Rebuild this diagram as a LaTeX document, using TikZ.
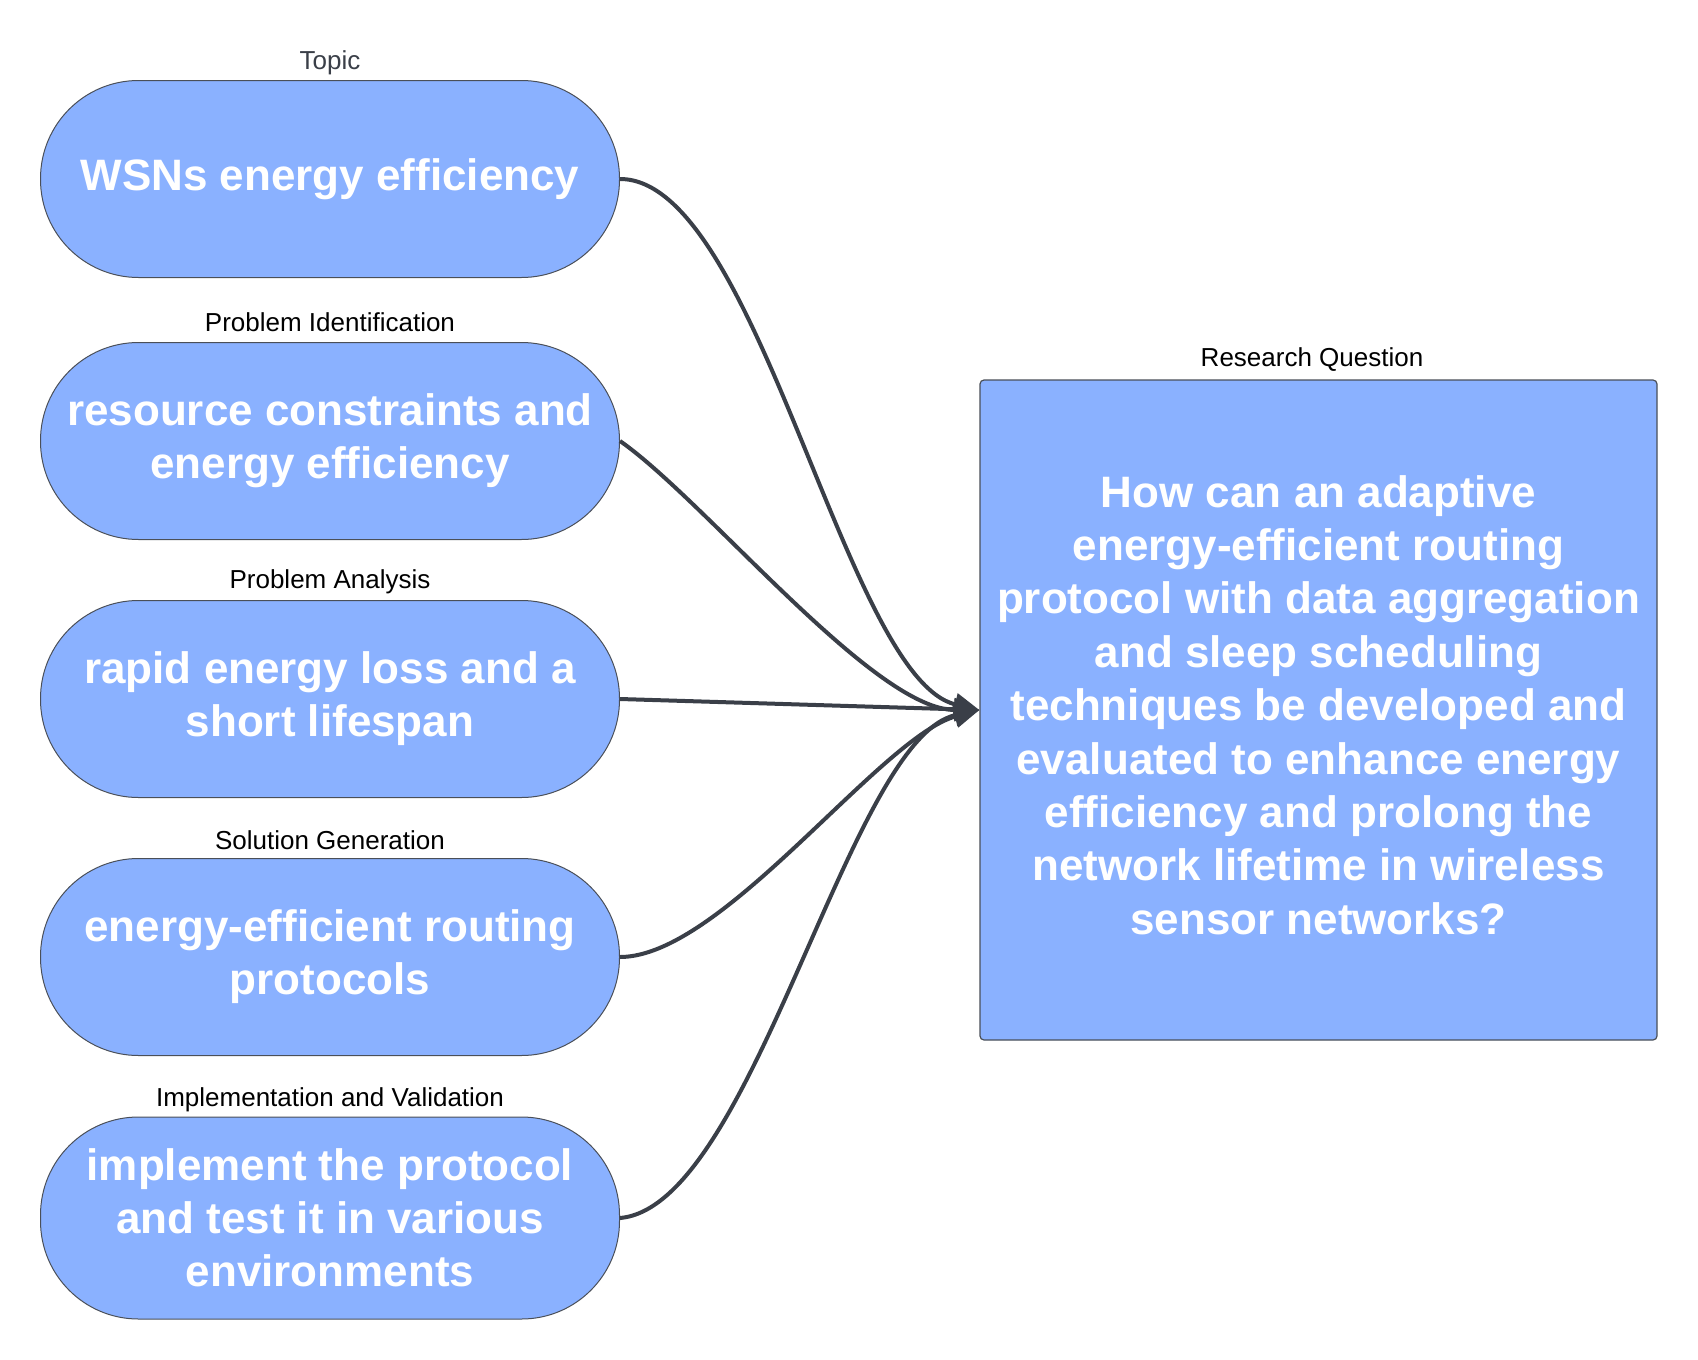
\documentclass[tikz,border=0pt]{standalone}
\usepackage{fontspec}
\setmainfont{Liberation Sans}
\usetikzlibrary{arrows.meta}
\definecolor{pillblue}{HTML}{8AB1FF}
\definecolor{wire}{HTML}{3A3F48}
\definecolor{rim}{HTML}{4A4F58}
\tikzset{>={Triangle[length=12.5pt,width=11pt]}}
\tikzset{
  pill/.style={draw=rim,line width=0.5pt,fill=pillblue,rounded corners=49pt,
    minimum width=289.5pt,minimum height=98.5pt,align=center,text=white,
    font=\bfseries\fontsize{22}{26.5}\selectfont},
  rqbox/.style={draw=rim,line width=0.6pt,fill=pillblue,rounded corners=2pt,
    minimum width=338.5pt,minimum height=330pt},
  rqtext/.style={align=center,text=white,font=\bfseries\fontsize{22}{26.7}\selectfont},
  caption/.style={font=\fontsize{13}{15}\selectfont},
  link/.style={->,wire,line width=2pt}
}

\begin{document}
\begin{tikzpicture}[x=0.5pt,y=-0.5pt]
  \useasboundingbox (0,0) rectangle (1698,1360);
  % left column
  \node[caption,text=wire] (topiccap) at (330,63) {Topic};
  \node[pill] (topic) at (330,179) {WSNs energy efficiency};
  \node[caption] (identcap) at (330,322) {Problem Identification};
  \node[pill] (ident) at (330,441) {resource constraints and\\energy efficiency};
  \node[caption] (analysiscap) at (330,582) {Problem Analysis};
  \node[pill] (analysis) at (330,699) {rapid energy loss and a\\short lifespan};
  \node[caption] (solutioncap) at (330,840) {Solution Generation};
  \node[pill] (solution) at (330,957) {energy-efficient routing\\protocols};
  \node[caption] (implcap) at (330,1100) {Implementation and Validation};
  \node[pill,minimum height=101pt] (impl) at (330,1218) {implement the protocol\\and test it in various\\environments};
  % research question
  \node[caption] (rqcap) at (1312,360) {Research Question};
  \node[rqbox] (rq) at (1318.5,710) {};
  \node[rqtext] (rqq) at (1318.5,705) {How can an adaptive\\energy-efficient routing\\protocol with data aggregation\\and sleep scheduling\\techniques be developed and\\evaluated to enhance energy\\efficiency and prolong the\\network lifetime in wireless\\sensor networks?};
  % arrows
  \draw[link] (topic.east) to[out=0,in=167,looseness=0.55] (rq.west);
  \draw[link] (ident.east) to[out=-35,in=180,looseness=0.6] (rq.west);
  \draw[link] (analysis.east) -- (rq.west);
  \draw[link] (solution.east) to[out=0,in=195,looseness=0.6] (rq.west);
  \draw[link] (impl.east) to[out=5,in=192,looseness=0.55] (rq.west);
\end{tikzpicture}
\end{document}
